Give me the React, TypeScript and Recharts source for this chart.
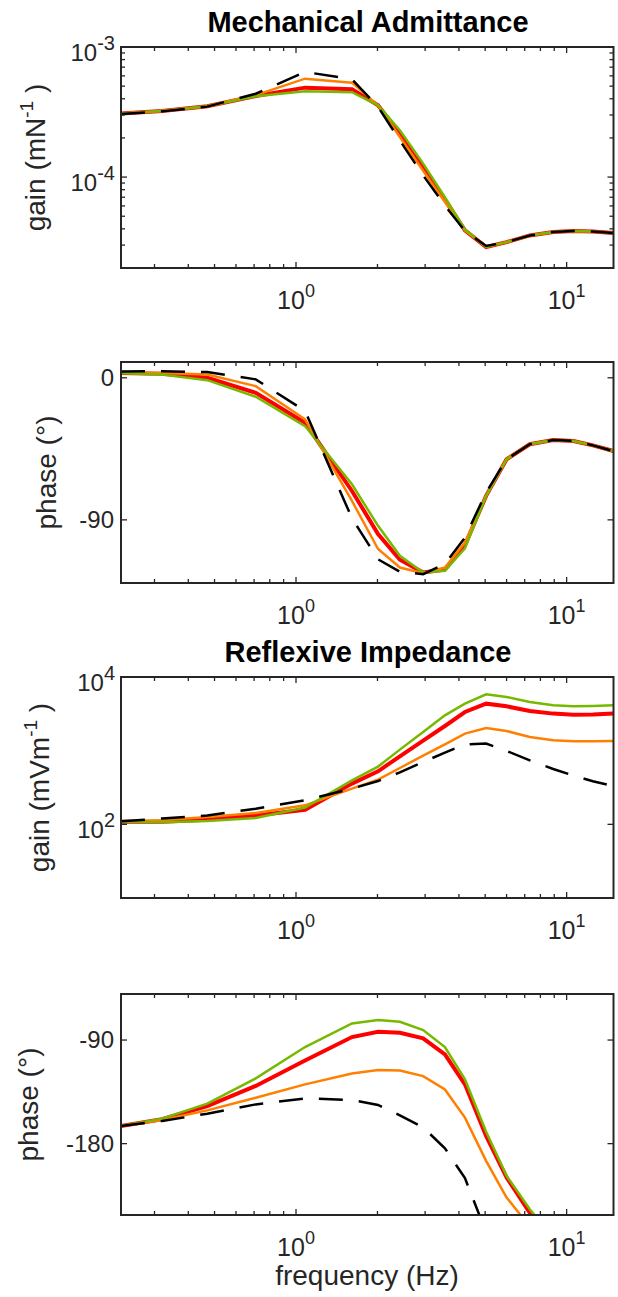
import React from 'react';
import { LineChart, Line, XAxis, YAxis } from 'recharts';

// frequency points (Hz), shared by every panel
const FREQ = [0.2256, 0.32, 0.47, 0.71, 1.08, 1.61, 2.01, 2.42, 2.95, 3.55, 4.21, 5.04, 6.0, 7.31, 8.92, 10.6, 12.5, 14.9];

// Mechanical admittance gain (m/N)
const ADM_GAIN_RED = [3.08e-4, 3.22e-4, 3.5e-4, 4.2e-4, 4.87e-4, 4.73e-4, 3.56e-4, 2.15e-4, 1.2e-4, 6.7e-5, 3.9e-5, 2.9e-5, 3.16e-5, 3.56e-5, 3.78e-5, 3.85e-5, 3.82e-5, 3.72e-5];
const ADM_GAIN_ORANGE = [3.08e-4, 3.22e-4, 3.5e-4, 4.27e-4, 5.71e-4, 5.32e-4, 3.56e-4, 2.03e-4, 1.12e-4, 6.43e-5, 3.9e-5, 2.9e-5, 3.16e-5, 3.56e-5, 3.78e-5, 3.85e-5, 3.82e-5, 3.72e-5];
const ADM_GAIN_GREEN = [3.08e-4, 3.22e-4, 3.5e-4, 4.18e-4, 4.56e-4, 4.49e-4, 3.56e-4, 2.29e-4, 1.27e-4, 7.0e-5, 3.95e-5, 2.9e-5, 3.16e-5, 3.56e-5, 3.78e-5, 3.85e-5, 3.82e-5, 3.72e-5];
const ADM_GAIN_BLACK = [3.06e-4, 3.2e-4, 3.48e-4, 4.37e-4, 6.43e-4, 5.65e-4, 3.47e-4, 1.91e-4, 1.03e-4, 6.05e-5, 3.85e-5, 2.95e-5, 3.16e-5, 3.56e-5, 3.78e-5, 3.85e-5, 3.82e-5, 3.72e-5];

// Mechanical admittance phase (deg)
const ADM_PHASE_RED = [3, 2.5, 0, -9.5, -28.5, -71.7, -99, -115.3, -123.3, -121.5, -106, -74.8, -51.6, -42.1, -39.4, -40, -42.8, -46.4];
const ADM_PHASE_ORANGE = [3, 3, 2.1, -5.3, -26.3, -78, -108.5, -120.2, -123.8, -120.2, -104.4, -74.8, -51.6, -42.1, -39.4, -40, -42.8, -46.4];
const ADM_PHASE_GREEN = [3, 2, -1.5, -12, -30.6, -67.5, -93.8, -112.8, -123.3, -122.3, -108, -74.8, -51.6, -42.1, -39.4, -40, -42.8, -46.4];
const ADM_PHASE_BLACK = [4, 4.2, 3.6, -1, -21, -89, -115, -122.9, -124.4, -118, -101.2, -72.7, -51.6, -42.1, -39.4, -40, -42.8, -46.4];

// Reflexive impedance gain (mV/m)
const IMP_GAIN_RED = [108, 108, 115, 132, 158, 357, 525, 839, 1371, 2163, 3350, 4345, 4000, 3459, 3184, 3083, 3105, 3184];
const IMP_GAIN_ORANGE = [108, 114, 126, 143, 181, 305, 405, 582, 857, 1219, 1702, 2032, 1849, 1535, 1384, 1340, 1340, 1349];
const IMP_GAIN_GREEN = [108, 107, 111, 122, 169, 396, 608, 1033, 1791, 3020, 4345, 5821, 5358, 4581, 4130, 4000, 4036, 4130];
const IMP_GAIN_BLACK = [110, 120, 132, 163, 212, 305, 387, 508, 701, 942, 1219, 1247, 991, 740, 564, 459, 384, 331];

// Reflexive impedance phase (deg)
const IMP_PHASE_RED = [-164.7, -158.8, -147.3, -129.9, -107.7, -87.4, -82.8, -83.7, -88.6, -102.5, -128.5, -173.3, -209.5, -240, -265, -282, -294, -302];
const IMP_PHASE_ORANGE = [-164.7, -159.4, -151.1, -140.1, -128.5, -119, -116, -116.4, -121.3, -132.9, -157.4, -195, -226.9, -252, -272, -286, -296, -304];
const IMP_PHASE_GREEN = [-164.7, -158.3, -145.3, -123.3, -96.1, -75.6, -72.6, -74.1, -81.3, -96.1, -124.2, -169.6, -208, -237, -262, -280, -292, -300];
const IMP_PHASE_BLACK = [-164.7, -160.3, -154, -145.9, -140.7, -142.1, -146.4, -155.4, -165.9, -184, -210, -257, -290, -320, -340, -355, -365, -375];

// tick values
const X_TICKS = [0.3, 0.4, 0.5, 0.6, 0.7, 0.8, 0.9, 1, 2, 3, 4, 5, 6, 7, 8, 9, 10];
const ADM_GAIN_TICKS = [2e-5, 3e-5, 4e-5, 5e-5, 6e-5, 7e-5, 8e-5, 9e-5, 1e-4, 2e-4, 3e-4, 4e-4, 5e-4, 6e-4, 7e-4, 8e-4, 9e-4, 1e-3];
const ADM_PHASE_TICKS = [-90, 0];
const IMP_GAIN_TICKS = [100, 10000];
const IMP_PHASE_TICKS = [-180, -90];

const FONT = '"Liberation Sans", Arial, Helvetica, sans-serif';
const AX = '#262626';
const W = 618;
const LEFT = 121;
const RIGHT = 613.5;
const BOX_W = RIGHT - LEFT;
const BOX_H = 221;
const MT = 47;
const MB = 80;
const X_DOMAIN = [FREQ[0], FREQ[FREQ.length - 1]];

const toRows = (red: number[], orange: number[], green: number[], black: number[]) =>
  FREQ.map((f, i) => ({ f, red: red[i], orange: orange[i], green: green[i], black: black[i] }));

const isDecade = (v: number) => Math.abs(Math.log10(v) - Math.round(Math.log10(v))) < 1e-6;

const XTick = ({ x, y, payload }: any) => {
  const v = payload.value;
  const major = isDecade(v);
  const len = major ? 6 : 4;
  return (
    <g>
      <line x1={x} y1={y} x2={x} y2={y - len} stroke={AX} strokeWidth={1.3} />
      <line x1={x} y1={y - BOX_H} x2={x} y2={y - BOX_H + len} stroke={AX} strokeWidth={1.3} />
      {major && (
        <text x={x} y={y + 41} textAnchor="middle" fontSize={25} fill={AX} fontFamily={FONT}>
          10<tspan dy={-12} fontSize={18}>{Math.round(Math.log10(v))}</tspan>
        </text>
      )}
    </g>
  );
};

const YTick = ({ x, y, payload, log }: any) => {
  const v = payload.value;
  const major = log ? isDecade(v) : true;
  const len = major ? 6 : 4;
  return (
    <g>
      <line x1={x} y1={y} x2={x + len} y2={y} stroke={AX} strokeWidth={1.3} />
      <line x1={x + BOX_W - len} y1={y} x2={x + BOX_W} y2={y} stroke={AX} strokeWidth={1.3} />
      {major && log && (
        <text x={x - 6} y={y + 14} textAnchor="end" fontSize={24} fill={AX} fontFamily={FONT}>
          10<tspan dy={-11} fontSize={20}>{Math.round(Math.log10(v))}</tspan>
        </text>
      )}
      {major && !log && (
        <text x={x - 7} y={y + 8} textAnchor="end" fontSize={24} fill={AX} fontFamily={FONT}>
          {v}
        </text>
      )}
    </g>
  );
};

// frame, title and x label of one panel
const PanelDecor = ({ title, xLabel }: any) => (
  <g>
    <rect x={LEFT} y={MT} width={BOX_W} height={BOX_H} fill="none" stroke={AX} strokeWidth={2} />
    {title && (
      <text x={368} y={32} textAnchor="middle" fontSize={29} fontWeight="bold" fill="#000" fontFamily={FONT}>
        {title}
      </text>
    )}
    {xLabel && (
      <text x={367} y={MT + BOX_H + 70} textAnchor="middle" fontSize={28} fill={AX} fontFamily={FONT}>
        frequency (Hz)
      </text>
    )}
  </g>
);

const YLabelText = ({ base, sup, lx }: any) => (
  <text
    transform={`translate(${lx},${MT + BOX_H / 2}) rotate(-90)`}
    textAnchor="middle"
    fontSize={28}
    fill={AX}
    fontFamily={FONT}
  >
    {base}
    {sup ? (
      <>
        <tspan dy={-12} fontSize={19}>{sup}</tspan>
        <tspan dy={12}>{' )'}</tspan>
      </>
    ) : null}
  </text>
);

interface PanelProps {
  top: number;
  rows: any[];
  log: boolean;
  yDomain: number[];
  yTicks: number[];
  title?: string;
  yBase: string;
  ySup?: string;
  yLabelX: number;
  xLabel?: boolean;
}

const Panel = ({ top, rows, log, yDomain, yTicks, title, yBase, ySup, yLabelX, xLabel }: PanelProps) => (
  <div style={{ position: 'absolute', left: 0, top }}>
    <LineChart width={W} height={MT + BOX_H + MB} data={rows} margin={{ top: MT, right: W - RIGHT, bottom: 0, left: 0 }}>
      <XAxis
        dataKey="f"
        type="number"
        scale="log"
        domain={X_DOMAIN}
        allowDataOverflow
        ticks={X_TICKS}
        interval={0}
        tick={<XTick />}
        tickLine={false}
        tickSize={0}
        tickMargin={0}
        height={MB}
        axisLine={false}
        label={<PanelDecor title={title} xLabel={xLabel} />}
      />
      <YAxis
        type="number"
        scale={log ? 'log' : 'linear'}
        domain={yDomain}
        allowDataOverflow
        ticks={yTicks}
        interval={0}
        tick={<YTick log={log} />}
        tickLine={false}
        tickSize={0}
        tickMargin={0}
        width={LEFT}
        axisLine={false}
        label={<YLabelText base={yBase} sup={ySup} lx={yLabelX} />}
      />
      <Line dataKey="red" stroke="#ff0000" strokeWidth={4} dot={false} isAnimationActive={false} />
      <Line dataKey="orange" stroke="#ff8000" strokeWidth={2.5} dot={false} isAnimationActive={false} />
      <Line dataKey="green" stroke="#77b900" strokeWidth={2.5} dot={false} isAnimationActive={false} />
      <Line dataKey="black" stroke="#000000" strokeWidth={2.5} strokeDasharray="24 16" dot={false} isAnimationActive={false} />
    </LineChart>
  </div>
);

export default function App() {
  return (
    <div style={{ position: 'absolute', left: 0, top: 0, width: W, height: 1297, background: '#fff', fontFamily: FONT }}>
      <Panel
        top={0}
        rows={toRows(ADM_GAIN_RED, ADM_GAIN_ORANGE, ADM_GAIN_GREEN, ADM_GAIN_BLACK)}
        log
        yDomain={[2e-5, 1e-3]}
        yTicks={ADM_GAIN_TICKS}
        title="Mechanical Admittance"
        yBase="gain (mN"
        ySup="-1"
        yLabelX={45}
      />
      <Panel
        top={315}
        rows={toRows(ADM_PHASE_RED, ADM_PHASE_ORANGE, ADM_PHASE_GREEN, ADM_PHASE_BLACK)}
        log={false}
        yDomain={[-130, 10]}
        yTicks={ADM_PHASE_TICKS}
        yBase="phase (°)"
        yLabelX={56}
      />
      <Panel
        top={630}
        rows={toRows(IMP_GAIN_RED, IMP_GAIN_ORANGE, IMP_GAIN_GREEN, IMP_GAIN_BLACK)}
        log
        yDomain={[10, 10000]}
        yTicks={IMP_GAIN_TICKS}
        title="Reflexive Impedance"
        yBase="gain (mVm"
        ySup="-1"
        yLabelX={49}
      />
      <Panel
        top={947}
        rows={toRows(IMP_PHASE_RED, IMP_PHASE_ORANGE, IMP_PHASE_GREEN, IMP_PHASE_BLACK)}
        log={false}
        yDomain={[-242, -50]}
        yTicks={IMP_PHASE_TICKS}
        yBase="phase (°)"
        yLabelX={38}
        xLabel
      />
    </div>
  );
}
